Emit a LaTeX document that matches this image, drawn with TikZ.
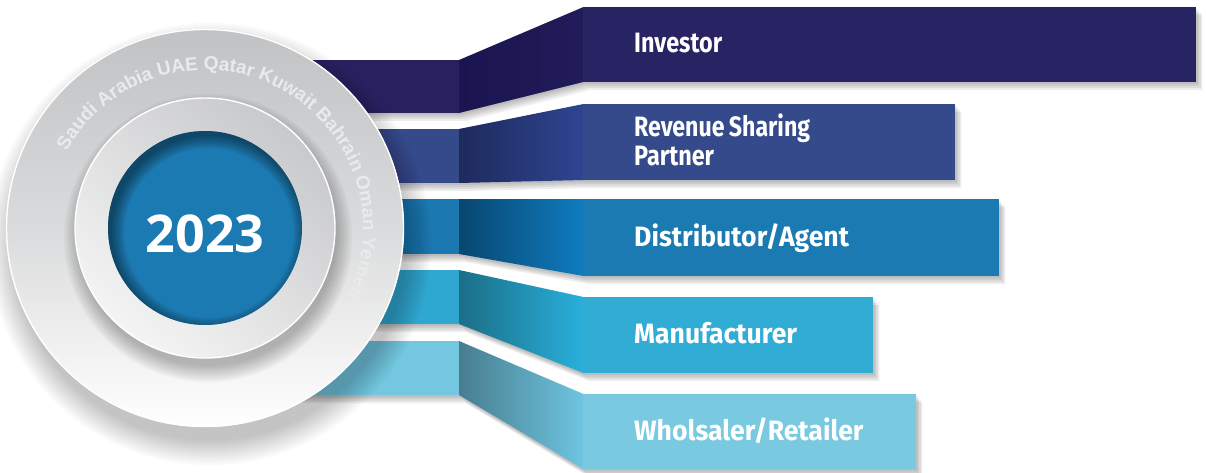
\documentclass[tikz,border=0pt]{standalone}
\usepackage{fontspec}
\usetikzlibrary{decorations.text}
\newfontfamily\labfont[FakeStretch=0.95]{Fira Sans}
\newfontfamily\yearfont{Open Sans}
\newfontfamily\arcfont{Liberation Sans}
\definecolor{boxone}{HTML}{282363}\definecolor{lone}{HTML}{27225F}\definecolor{mLone}{HTML}{1A1550}\definecolor{mRone}{HTML}{211C59}
\definecolor{boxtwo}{HTML}{354A8B}\definecolor{ltwo}{HTML}{354A8B}\definecolor{mLtwo}{HTML}{1D2A5C}\definecolor{mRtwo}{HTML}{2F4592}
\definecolor{boxthree}{HTML}{1C7AB2}\definecolor{lthree}{HTML}{1B78B0}\definecolor{mLthree}{HTML}{074770}\definecolor{mRthree}{HTML}{107CBF}
\definecolor{boxfour}{HTML}{31ACD4}\definecolor{lfour}{HTML}{2FA8D1}\definecolor{mLfour}{HTML}{1B6E87}\definecolor{mRfour}{HTML}{29B0DC}
\definecolor{boxfive}{HTML}{79C9E1}\definecolor{lfive}{HTML}{74C7E0}\definecolor{mLfive}{HTML}{487D8F}\definecolor{mRfive}{HTML}{6EC5E1}
\definecolor{bluedisc}{HTML}{1C7AB2}
\definecolor{arcgray}{HTML}{E9EAEB}
\definecolor{outtop}{HTML}{C1C2C4}\definecolor{outmid}{HTML}{DADBDC}
\definecolor{midtop}{HTML}{C8C9CB}\definecolor{midbot}{HTML}{F4F4F4}
\tikzset{
  labtext/.style={text=white, font=\labfont\bfseries\fontsize{28}{29}\selectfont, inner sep=0pt, anchor=base west},
  soft/.style={fill=black, opacity=0.07},
}
\begin{document}
\begin{tikzpicture}[x=1pt,y=-1pt]
\useasboundingbox (0,0) rectangle (1206,473);
\fill[white] (0,0) rectangle (1206,473);
% band shadows
\foreach \lt/\lb/\bt/\bb/\br in {60/113/7/82/1196, 129/183/104/180/955, 199/254/199/276/999, 270/324/297/373/873, 341/395/394/469/916}{
  \foreach \d in {2,4,6,8}{
    \fill[soft] ([shift={(\d*0.8,\d)}]250,\lt) -- ([shift={(\d*0.8,\d)}]459,\lt) -- ([shift={(\d*0.8,\d)}]583,\bt) -- ([shift={(\d*0.8,\d)}]\br,\bt) -- ([shift={(\d*0.8,\d)}]\br,\bb) -- ([shift={(\d*0.8,\d)}]583,\bb) -- ([shift={(\d*0.8,\d)}]459,\lb) -- ([shift={(\d*0.8,\d)}]250,\lb) -- cycle;
  }
}
% bands
\foreach \lt/\lb/\bt/\bb/\br/\c in {60/113/7/82/1196/one, 129/183/104/180/955/two, 199/254/199/276/999/three, 270/324/297/373/873/four, 341/395/394/469/916/five}{
  \fill[l\c] (250,\lt) rectangle (459.5,\lb);
  \shade[left color=mL\c, right color=mR\c] (459,\lt) -- (583.5,\bt) -- (583.5,\bb) -- (459,\lb) -- cycle;
  \fill[box\c] (583,\bt) rectangle (\br,\bb);
}
% circle shadow
\foreach \k in {0,...,11}{
  \fill[black, opacity=0.018] (210,244) circle (197+\k*2.2);
}
% outer disc
\shade[top color=outtop, bottom color=white, middle color=outmid] (205,228) circle (199);
\draw[white, line width=1.4pt] (205,228) circle (198.5);
% curved text
\begin{scope}
\arcfont\bfseries\fontsize{19}{19}\selectfont
\path[decorate, decoration={text along path, text color=arcgray,
  text={Saudi Arabia UAE Qatar Kuwait Bahrain Oman Yemen}}]
  (205,228) ++(-151:158) arc[start angle=-151, end angle=70, radius=158];
\end{scope}
% middle ring shadow
\foreach \k in {0,...,8}{
  \fill[black, opacity=0.03] (208,238) circle (128+\k*2);
}
% middle disc
\shade[top color=midtop, bottom color=midbot, shading angle=-40] (205,228) circle (130);
\draw[white, line width=1.4pt] (205,228) circle (130);
% blue disc
\fill[bluedisc] (205,228) circle (97);
\begin{scope}
  \clip (205,228) circle (97);
  \foreach \k in {0,2,...,12}{
    \fill[black, opacity=0.07, even odd rule] (205,228) circle (110) (209,233) circle (97-\k);
  }
\end{scope}
\node[text=white, font=\yearfont\bfseries\fontsize{52}{52}\selectfont, inner sep=0pt, anchor=base] (year) at (205,252) {2023};
% labels
\node[labtext] (inv) at (634,53) {\scalebox{0.88}[1]{Investor}};
\node[labtext] (rsp1) at (634,137) {\scalebox{0.87}[1]{Revenue\hspace{0.18em}Sharing}};
\node[labtext] (rsp2) at (634,166) {\scalebox{0.88}[1]{Partner}};
\node[labtext] (dist) at (634,246) {Distributor/Agent};
\node[labtext] (manu) at (634,343) {Manufacturer};
\node[labtext] (whol) at (634,440) {Wholsaler/Retailer};
\end{tikzpicture}
\end{document}
